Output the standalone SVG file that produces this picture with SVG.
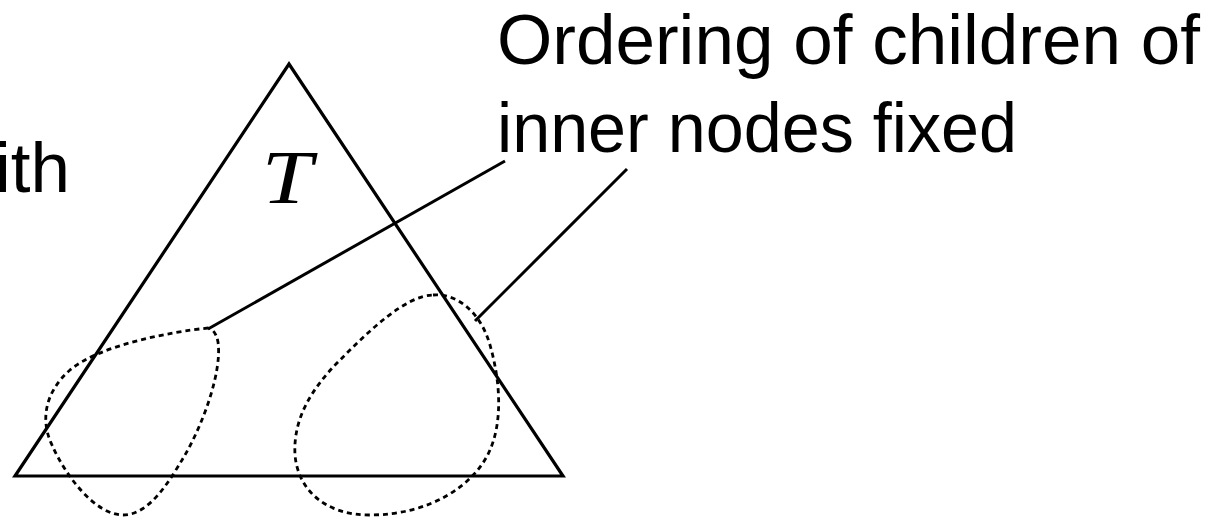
<svg xmlns="http://www.w3.org/2000/svg" width="1216" height="521" viewBox="0 0 1216 521">
<style>
.tri{fill:none;stroke:#000;stroke-width:3.2;stroke-linejoin:miter}
.blob{fill:none;stroke:#000;stroke-width:2.8;stroke-dasharray:5 4}
.lead{fill:none;stroke:#000;stroke-width:3;stroke-linecap:butt}
.lbl{font-family:"Liberation Sans",Arial,sans-serif;font-size:71px;fill:#000}
.math{font-family:"Liberation Serif","Times New Roman",serif;font-style:italic;font-size:77px;fill:#000}
</style>
<rect width="1216" height="521" fill="#fff"/>
<g id="tree">
<path class="tri" d="M15,476 L289,64 L563,476 Z"/>
<text class="math" transform="translate(287,203) scale(1.18,1)" x="0" y="0" text-anchor="middle">T</text>
</g>
<g id="subtree-left">
<path class="blob" d="M208,328 C170,332 100,345 70,370 C45,392 40,420 52,445 C65,475 95,515 123,515 C150,515 170,480 185,455 C205,420 222,370 218,342 C216,332 212,329 208,328 Z"/>
</g>
<g id="subtree-right">
<path class="blob" d="M433,295 C455,293 480,310 490,345 C500,380 503,420 490,450 C475,485 430,515 370,515 C325,515 298,490 295,455 C293,420 310,390 340,360 C370,330 405,296 433,295 Z"/>
</g>
<g id="label-with">
<text class="lbl" x="-5" y="192" font-size="73">ith</text>
</g>
<g id="label-ordering">
<text class="lbl" x="497" y="64" textLength="703" lengthAdjust="spacingAndGlyphs">Ordering of children of</text>
<text class="lbl" x="497" y="152" textLength="520" lengthAdjust="spacingAndGlyphs">inner nodes fixed</text>
</g>
<g id="connectors">
<line class="lead" x1="208" y1="329" x2="505" y2="161"/>
<line class="lead" x1="475" y1="321" x2="627" y2="169"/>
</g>
</svg>
